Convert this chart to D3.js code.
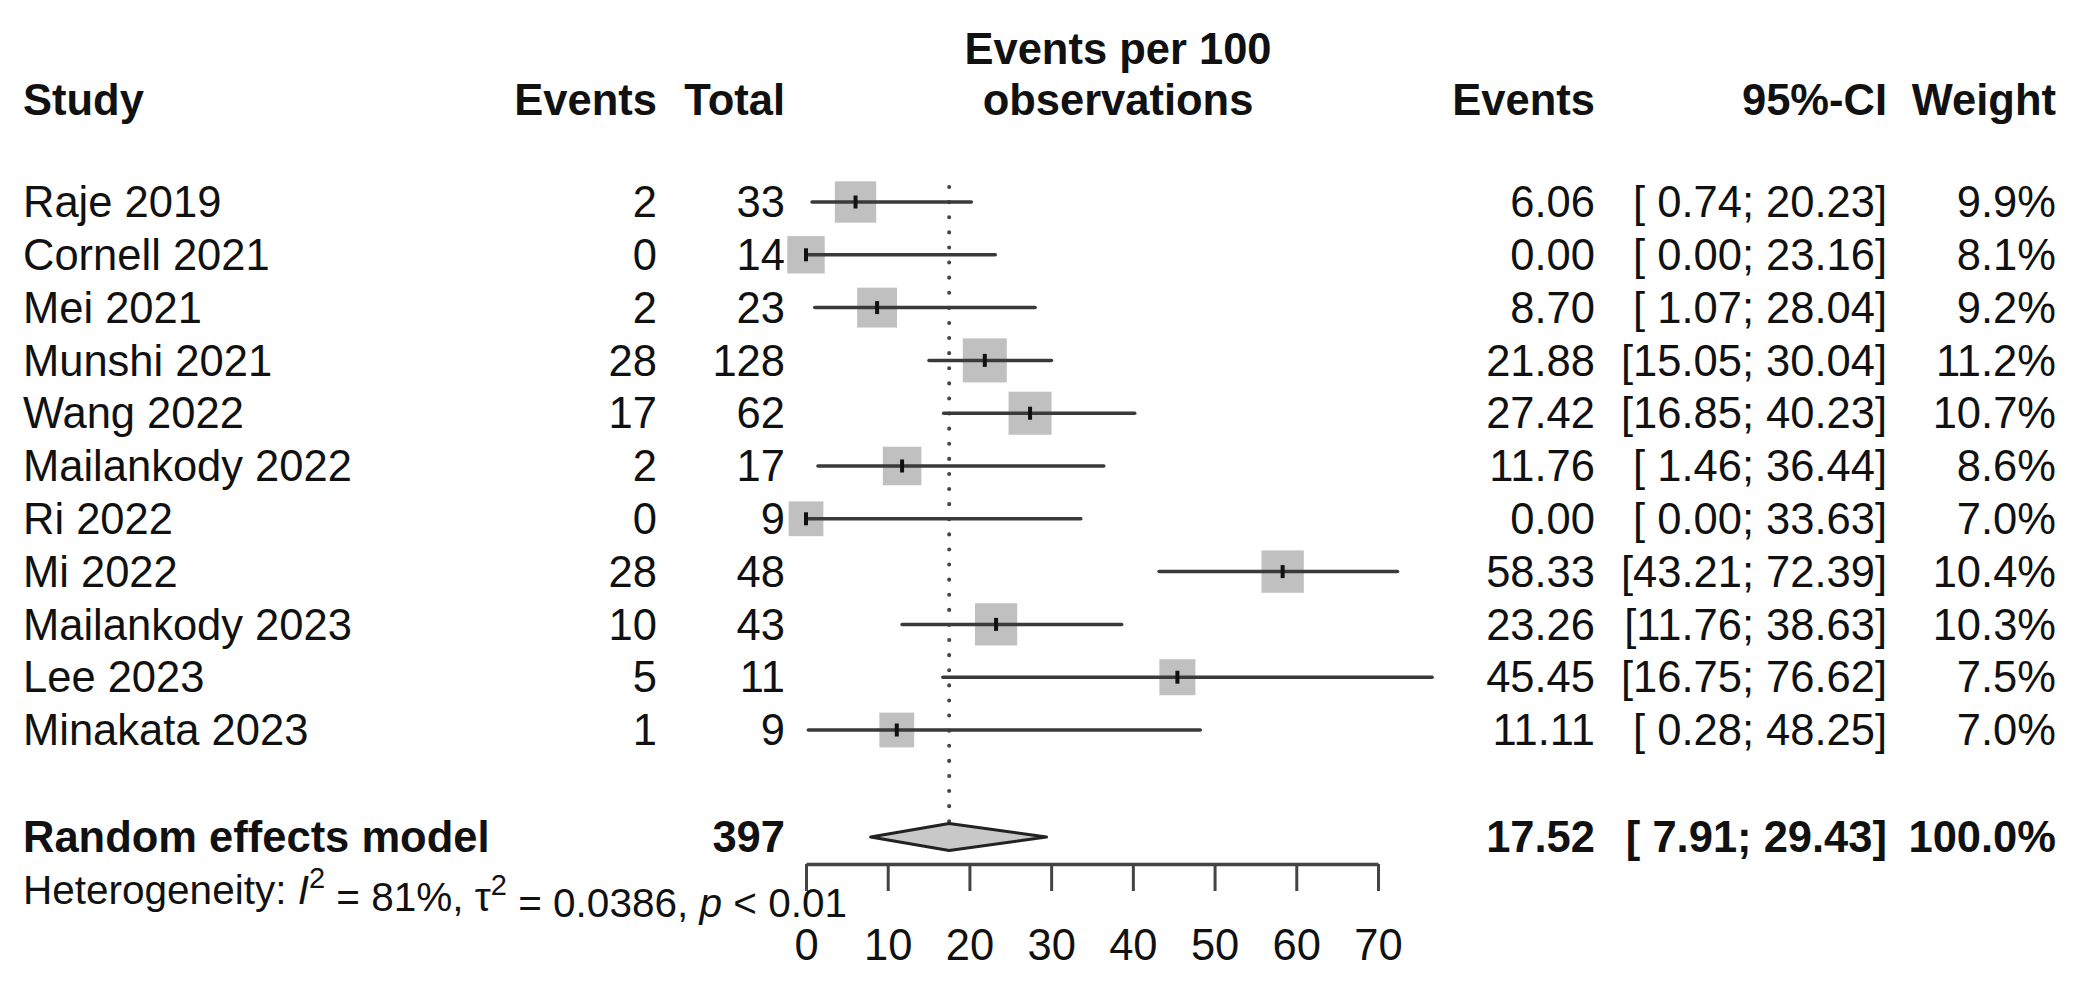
<!DOCTYPE html>
<html lang="en">
<head>
  <meta charset="UTF-8">
  <title>Events per 100 observations - forest plot</title>
  <script src="https://d3js.org/d3.v7.min.js"></script>
  <style>
    body { margin: 0; background: #fff; }
    text { font-family: "Liberation Sans", Arial, sans-serif; fill: #111; }
  </style>
</head>
<body>
<div id="chart"></div>
<script>
  // study data
  const studies = ["Raje 2019", "Cornell 2021", "Mei 2021", "Munshi 2021", "Wang 2022",
    "Mailankody 2022", "Ri 2022", "Mi 2022", "Mailankody 2023", "Lee 2023", "Minakata 2023"];
  const events = [2, 0, 2, 28, 17, 2, 0, 28, 10, 5, 1];
  const totals = [33, 14, 23, 128, 62, 17, 9, 48, 43, 11, 9];
  const estimates = [6.06, 0.00, 8.70, 21.88, 27.42, 11.76, 0.00, 58.33, 23.26, 45.45, 11.11];
  const lowers = [0.74, 0.00, 1.07, 15.05, 16.85, 1.46, 0.00, 43.21, 11.76, 16.75, 0.28];
  const uppers = [20.23, 23.16, 28.04, 30.04, 40.23, 36.44, 33.63, 72.39, 38.63, 76.62, 48.25];
  const weights = [9.9, 8.1, 9.2, 11.2, 10.7, 8.6, 7.0, 10.4, 10.3, 7.5, 7.0];

  // random effects model
  const pooledTotal = 397;
  const pooledCI = [17.52, 7.91, 29.43];   // estimate, lower, upper
  const pooledWeight = 100.0;

  const xTicks = [0, 10, 20, 30, 40, 50, 60, 70];

  const W = 2082, H = 982;
  const fs = 43.5;

  const svg = d3.select("#chart").append("svg")
    .attr("width", W).attr("height", H);

  const x = d3.scaleLinear().domain([0, 70]).range([806, 1378]);
  const y = d3.scalePoint().domain(studies).range([202, 730]);
  const boxSize = d3.scaleSqrt().domain([0, d3.max(weights)]).range([0, 44]);
  const yPooled = 837;

  const pad5 = v => { const s = v.toFixed(2); return " ".repeat(Math.max(0, 5 - s.length)) + s; };
  const ciText = (lo, hi) => "[" + pad5(lo) + "; " + pad5(hi) + "]";

  // column positions
  const col = { study: 23, events: 657, total: 785, rEvents: 1595, ci: 1887, weight: 2056 };

  // headers
  const header = svg.append("g").style("font-weight", "bold").style("font-size", fs + "px");
  header.append("text").attr("x", col.study).attr("y", 100).attr("dy", "0.35em").text("Study");
  header.append("text").attr("x", col.events).attr("y", 100).attr("dy", "0.35em").attr("text-anchor", "end").text("Events");
  header.append("text").attr("x", col.total).attr("y", 100).attr("dy", "0.35em").attr("text-anchor", "end").text("Total");
  header.append("text").attr("x", 1118).attr("y", 49).attr("dy", "0.35em").attr("text-anchor", "middle").text("Events per 100");
  header.append("text").attr("x", 1118).attr("y", 100).attr("dy", "0.35em").attr("text-anchor", "middle").text("observations");
  header.append("text").attr("x", col.rEvents).attr("y", 100).attr("dy", "0.35em").attr("text-anchor", "end").text("Events");
  header.append("text").attr("x", col.ci).attr("y", 100).attr("dy", "0.35em").attr("text-anchor", "end").text("95%-CI");
  header.append("text").attr("x", col.weight).attr("y", 100).attr("dy", "0.35em").attr("text-anchor", "end").text("Weight");

  // reference line at pooled estimate (dotted)
  svg.append("line")
    .attr("x1", x(pooledCI[0])).attr("x2", x(pooledCI[0]))
    .attr("y1", 187).attr("y2", yPooled - 14)
    .attr("stroke", "#444").attr("stroke-width", 4)
    .attr("stroke-linecap", "round")
    .attr("stroke-dasharray", "0.1,15");

  // study rows
  const rows = svg.selectAll(".row").data(studies).enter().append("g").attr("class", "row");
  rows.append("text").attr("x", col.study).attr("y", d => y(d)).attr("dy", "0.35em")
    .style("font-size", fs + "px").text(d => d);
  rows.append("text").attr("x", col.events).attr("y", d => y(d)).attr("dy", "0.35em")
    .attr("text-anchor", "end").style("font-size", fs + "px").text((d, i) => events[i]);
  rows.append("text").attr("x", col.total).attr("y", d => y(d)).attr("dy", "0.35em")
    .attr("text-anchor", "end").style("font-size", fs + "px").text((d, i) => totals[i]);
  rows.append("text").attr("x", col.rEvents).attr("y", d => y(d)).attr("dy", "0.35em")
    .attr("text-anchor", "end").style("font-size", fs + "px").text((d, i) => estimates[i].toFixed(2));
  rows.append("text").attr("x", col.ci).attr("y", d => y(d)).attr("dy", "0.35em")
    .attr("text-anchor", "end").style("font-size", fs + "px").style("white-space", "pre")
    .text((d, i) => ciText(lowers[i], uppers[i]));
  rows.append("text").attr("x", col.weight).attr("y", d => y(d)).attr("dy", "0.35em")
    .attr("text-anchor", "end").style("font-size", fs + "px").text((d, i) => weights[i].toFixed(1) + "%");

  // squares
  rows.append("rect")
    .attr("x", (d, i) => x(estimates[i]) - boxSize(weights[i]) / 2)
    .attr("y", (d, i) => y(d) - boxSize(weights[i]) / 2)
    .attr("width", (d, i) => boxSize(weights[i]))
    .attr("height", (d, i) => boxSize(weights[i]))
    .attr("fill", "#c0c0c0");
  // CI lines
  rows.append("line")
    .attr("x1", (d, i) => x(lowers[i])).attr("x2", (d, i) => x(uppers[i]))
    .attr("y1", d => y(d)).attr("y2", d => y(d))
    .attr("stroke", "#3a3a3a").attr("stroke-width", 3.5).attr("stroke-linecap", "round");
  // point marker
  rows.append("line")
    .attr("x1", (d, i) => x(estimates[i])).attr("x2", (d, i) => x(estimates[i]))
    .attr("y1", d => y(d) - 6.5).attr("y2", d => y(d) + 6.5)
    .attr("stroke", "#111").attr("stroke-width", 4);

  // pooled row
  const pooled = svg.append("g").style("font-weight", "bold").style("font-size", fs + "px");
  pooled.append("text").attr("x", col.study).attr("y", yPooled).attr("dy", "0.35em").text("Random effects model");
  pooled.append("text").attr("x", col.total).attr("y", yPooled).attr("dy", "0.35em").attr("text-anchor", "end").text(pooledTotal);
  pooled.append("text").attr("x", col.rEvents).attr("y", yPooled).attr("dy", "0.35em").attr("text-anchor", "end").text(pooledCI[0].toFixed(2));
  pooled.append("text").attr("x", col.ci).attr("y", yPooled).attr("dy", "0.35em").attr("text-anchor", "end")
    .style("white-space", "pre").text(ciText(pooledCI[1], pooledCI[2]));
  pooled.append("text").attr("x", col.weight).attr("y", yPooled).attr("dy", "0.35em").attr("text-anchor", "end")
    .text(pooledWeight.toFixed(1) + "%");

  const dh = 13.5;
  svg.append("path")
    .attr("d", `M${x(pooledCI[1])},${yPooled} L${x(pooledCI[0])},${yPooled - dh} L${x(pooledCI[2])},${yPooled} L${x(pooledCI[0])},${yPooled + dh} Z`)
    .attr("fill", "#c8c8c8").attr("stroke", "#222").attr("stroke-width", 3)
    .attr("stroke-linejoin", "round");

  // heterogeneity
  const het = svg.append("text").attr("x", col.study).attr("y", 890).attr("dy", "0.35em")
    .style("font-size", "40.5px").style("white-space", "pre");
  het.append("tspan").text("Heterogeneity: ");
  het.append("tspan").style("font-style", "italic").text("I");
  het.append("tspan").attr("dy", "-0.55em").style("font-size", "29px").text("2");
  het.append("tspan").attr("dy", "0.55em").text(" = 81%, \u03c4");
  het.append("tspan").attr("dy", "-0.55em").style("font-size", "29px").text("2");
  het.append("tspan").attr("dy", "0.55em").text(" = 0.0386, ");
  het.append("tspan").style("font-style", "italic").text("p");
  het.append("tspan").text(" < 0.01");

  // x axis
  const axis = svg.append("g").attr("transform", "translate(0,864)")
    .call(d3.axisBottom(x).tickValues(xTicks).tickSize(27).tickPadding(38).tickSizeOuter(0));
  axis.select(".domain").attr("stroke", "#444").attr("stroke-width", 3.5);
  axis.selectAll(".tick line").attr("stroke", "#444").attr("stroke-width", 3);
  axis.selectAll(".tick text").style("font-size", fs + "px").style("font-family", "Liberation Sans, Arial, sans-serif").attr("fill", "#111");
</script>
</body>
</html>
